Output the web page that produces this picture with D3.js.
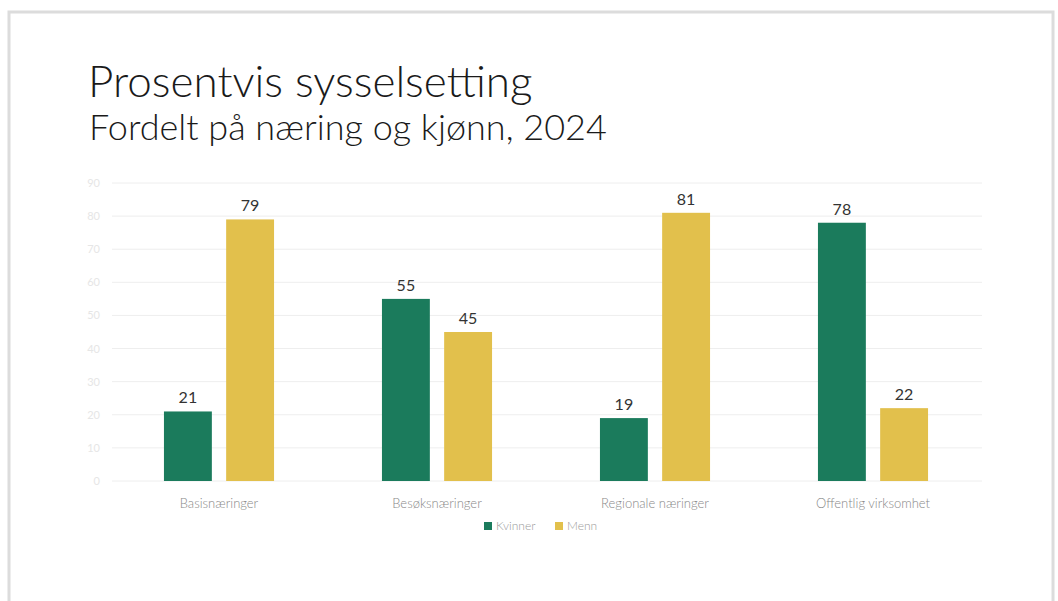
<!DOCTYPE html>
<html>
<head>
<meta charset="utf-8">
<script src="https://cdn.jsdelivr.net/npm/d3@7"></script>
<style>
  body { margin: 0; background: #fff; }
  svg { display: block; }
</style>
</head>
<body>
<svg id="chart" width="1058" height="601"></svg>
<script>
var categories = ["Basisnæringer", "Besøksnæringer", "Regionale næringer", "Offentlig virksomhet"];
var series = ["Kvinner", "Menn"];
var kvinner = [21, 55, 19, 78];
var menn = [79, 45, 81, 22];
var yTicks = [0, 10, 20, 30, 40, 50, 60, 70, 80, 90];

var colors = { "Kvinner": "#1b7b5c", "Menn": "#e2c04c" };

var svg = d3.select("#chart");
var font = "Lato, 'Open Sans', sans-serif";

// frame
svg.append("rect")
    .attr("x", 9).attr("y", 12)
    .attr("width", 1044).attr("height", 620)
    .attr("fill", "#fff")
    .style("stroke", "#dcdcdc")
    .style("stroke-width", 3);

// titles
svg.append("text")
    .text("Prosentvis sysselsetting")
    .attr("x", 88).attr("y", 97)
    .attr("font-family", font)
    .attr("font-weight", 300)
    .attr("font-size", 44)
    .attr("fill", "#1a1a1a");
svg.append("text")
    .text("Fordelt på næring og kjønn, 2024")
    .attr("x", 89).attr("y", 140)
    .attr("font-family", font)
    .attr("font-weight", 300)
    .attr("font-size", 36)
    .attr("fill", "#1a1a1a");

var x0 = d3.scaleBand()
    .domain(categories)
    .range([110, 982])
    .paddingInner(0.495)
    .paddingOuter(0.2475);

var x1 = d3.scaleBand()
    .domain(series)
    .range([0, x0.bandwidth()])
    .paddingInner(0.23);

var y = d3.scaleLinear()
    .domain([0, 90])
    .range([481, 183]);

// gridlines
var grid = svg.append("g");
grid.selectAll("line")
    .data(yTicks)
    .enter()
    .append("line")
    .attr("x1", 112).attr("x2", 982)
    .attr("y1", function(d) { return y(d); })
    .attr("y2", function(d) { return y(d); })
    .style("stroke", "#eeeeee")
    .style("stroke-width", 1);

// faint y labels
var yAxis = svg.append("g")
    .attr("transform", "translate(100,0)")
    .call(d3.axisLeft(y).tickValues(yTicks).tickSize(0).tickPadding(0));
yAxis.select(".domain").remove();
yAxis.selectAll("text")
    .attr("font-family", font)
    .attr("font-size", 11)
    .attr("fill", "#e6e6e6");

var rows = categories.map(function(c, i) {
    return { cat: c, values: [
        { key: "Kvinner", value: kvinner[i] },
        { key: "Menn", value: menn[i] }
    ]};
});

var groups = svg.append("g")
    .selectAll("g")
    .data(rows)
    .enter()
    .append("g")
    .attr("transform", function(d) { return "translate(" + x0(d.cat) + ",0)"; });

groups.selectAll("rect")
    .data(function(d) { return d.values; })
    .enter()
    .append("rect")
    .attr("x", function(d) { return x1(d.key); })
    .attr("y", function(d) { return y(d.value); })
    .attr("width", x1.bandwidth())
    .attr("height", function(d) { return y(0) - y(d.value); })
    .attr("fill", function(d) { return colors[d.key]; });

groups.selectAll("text")
    .data(function(d) { return d.values; })
    .enter()
    .append("text")
    .text(function(d) { return d.value; })
    .attr("x", function(d) { return x1(d.key) + x1.bandwidth() / 2; })
    .attr("y", function(d) { return y(d.value) - 8; })
    .attr("text-anchor", "middle")
    .attr("font-family", font)
    .attr("font-size", 16)
    .attr("fill", "#333");

// category labels
svg.append("g")
    .selectAll("text")
    .data(categories)
    .enter()
    .append("text")
    .text(function(d) { return d; })
    .attr("x", function(d) { return x0(d) + x0.bandwidth() / 2; })
    .attr("y", 508)
    .attr("text-anchor", "middle")
    .attr("font-family", font)
    .attr("font-weight", 300)
    .attr("font-size", 13)
    .attr("fill", "#888");

// legend
var legend = svg.append("g").attr("transform", "translate(484,530)");
var legendX = [0, 71];
series.forEach(function(s, i) {
    var item = legend.append("g").attr("transform", "translate(" + legendX[i] + ",0)");
    item.append("rect")
        .attr("x", 0).attr("y", -8)
        .attr("width", 8).attr("height", 8)
        .attr("fill", colors[s]);
    item.append("text")
        .text(s)
        .attr("x", 12).attr("y", 0)
        .attr("font-family", font)
        .attr("font-weight", 300)
        .attr("font-size", 12)
        .attr("fill", "#999");
});
</script>
</body>
</html>
